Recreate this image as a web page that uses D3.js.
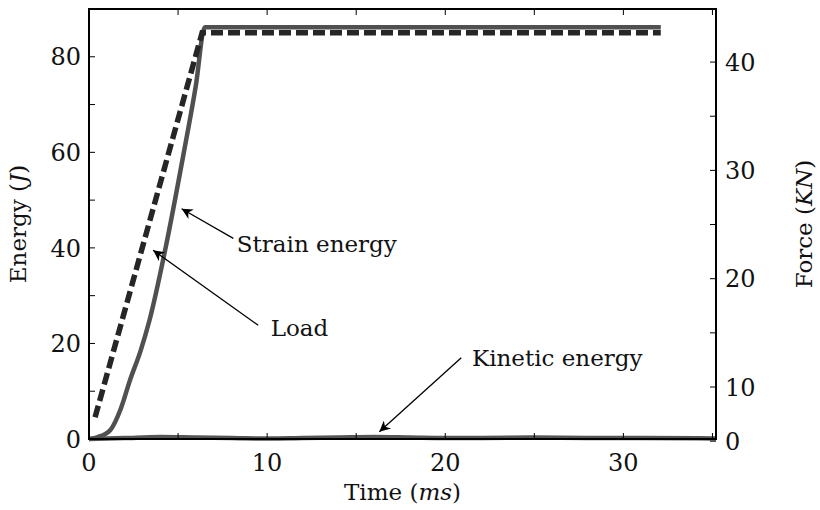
<!DOCTYPE html>
<html>
<head>
<meta charset="utf-8">
<script src="https://cdn.jsdelivr.net/npm/d3@7"></script>
<style>
  body { margin: 0; background: #fff; }
  text { font-family: "DejaVu Serif", serif; fill: #111; }
</style>
</head>
<body>
<div id="chart"></div>
<script>
// strain energy (J) vs time (ms)
var strainTime   = [0, 0.5, 1.2, 1.8, 2.3, 2.9, 3.4, 4.3, 5.3, 6.0, 6.5, 32.1];
var strainEnergy = [0, 0.4, 1.9, 6.5, 12.3, 18.5, 24.9, 40.0, 59.5, 74.0, 86.2, 86.2];

// load (KN) vs time (ms), right axis
var loadTime  = [0.34, 6.35, 32.1];
var loadForce = [7.2, 42.7, 42.7];

// kinetic energy (J) vs time (ms)
var kineticTime   = [0, 2, 4, 6, 8, 10, 12, 14, 16, 18, 20, 22, 25, 28, 31, 35.2];
var kineticEnergy = [0, 0.2, 0.4, 0.3, 0.2, 0.1, 0.2, 0.3, 0.4, 0.3, 0.2, 0.2, 0.3, 0.2, 0.2, 0.1];

// ticks
var xTicks = [0, 5, 10, 15, 20, 25, 30, 35];
var xLabels = [0, 10, 20, 30];
var energyTicks = [0, 10, 20, 30, 40, 50, 60, 70, 80];
var energyLabels = [0, 20, 40, 60, 80];
var forceTicks = [5, 10, 15, 20, 25, 30, 35, 40];
var forceLabels = [5, 10, 20, 30, 40];

// annotations: text, text position, arrow start, arrow tip (data coords: time, energy)
var notes = [
  {text: "Strain energy", tx: 8.3, ty: 39.2, from: [8.1, 42.0], to: [5.2, 48.2]},
  {text: "Load", tx: 10.2, ty: 21.5, from: [9.5, 23.8], to: [3.6, 39.5]},
  {text: "Kinetic energy", tx: 21.5, ty: 15.3, from: [20.9, 17.0], to: [16.3, 1.5]}
];

var margin = {top: 9, right: 104, bottom: 71, left: 89},
    width = 820 - margin.left - margin.right,
    height = 510 - margin.top - margin.bottom;

var x = d3.scaleLinear().domain([0, 35.2]).range([0, width]);
var yE = d3.scaleLinear().domain([0, 90]).range([height, 0]);
var yF = d3.scaleLinear().domain([5.2, 44.9]).range([height, 0]);

var svg = d3.select("#chart")
  .append("svg")
  .attr("width", 820)
  .attr("height", 510)
  .append("g")
  .attr("transform", "translate(" + margin.left + "," + margin.top + ")");

svg.append("defs").append("marker")
  .attr("id", "arrow")
  .attr("viewBox", "0 0 10 10")
  .attr("refX", 10).attr("refY", 5)
  .attr("markerWidth", 18).attr("markerHeight", 11)
  .attr("markerUnits", "userSpaceOnUse")
  .attr("orient", "auto")
  .append("path")
  .attr("d", "M0,0 L10,5 L0,10 L3,5 Z")
  .attr("fill", "#000");

// lines
var strainData = strainTime.map(function(t, i) { return [t, strainEnergy[i]]; });
var loadData = loadTime.map(function(t, i) { return [t, loadForce[i]]; });
var kineticData = kineticTime.map(function(t, i) { return [t, kineticEnergy[i]]; });

var lineE = d3.line()
  .x(function(d) { return x(d[0]); })
  .y(function(d) { return yE(d[1]); })
  .curve(d3.curveMonotoneX);
var lineF = d3.line()
  .x(function(d) { return x(d[0]); })
  .y(function(d) { return yF(d[1]); });

svg.append("path")
  .datum(kineticData)
  .attr("d", lineE)
  .attr("fill", "none")
  .attr("stroke", "#555")
  .attr("stroke-width", 4.5);

svg.append("path")
  .datum(strainData)
  .attr("d", lineE)
  .attr("fill", "none")
  .attr("stroke", "#505050")
  .attr("stroke-width", 4.5);

svg.append("path")
  .datum(loadData)
  .attr("d", lineF)
  .attr("fill", "none")
  .attr("stroke", "#262626")
  .attr("stroke-width", 5.5)
  .attr("stroke-dasharray", "12,5");

// frame
svg.append("rect")
  .attr("width", width)
  .attr("height", height)
  .attr("fill", "none")
  .attr("stroke", "#000")
  .attr("stroke-width", 2);

// ticks (inward) on all sides
var tickLen = 6;
svg.selectAll(".xtick-b").data(xTicks).enter().append("line")
  .attr("x1", function(d) { return x(d); }).attr("x2", function(d) { return x(d); })
  .attr("y1", height).attr("y2", height - tickLen)
  .attr("stroke", "#000").attr("stroke-width", 1);
svg.selectAll(".xtick-t").data(xTicks).enter().append("line")
  .attr("x1", function(d) { return x(d); }).attr("x2", function(d) { return x(d); })
  .attr("y1", 0).attr("y2", tickLen)
  .attr("stroke", "#000").attr("stroke-width", 1);
svg.selectAll(".etick").data(energyTicks).enter().append("line")
  .attr("x1", 0).attr("x2", tickLen)
  .attr("y1", function(d) { return yE(d); }).attr("y2", function(d) { return yE(d); })
  .attr("stroke", "#000").attr("stroke-width", 1);
svg.selectAll(".ftick").data(forceTicks).enter().append("line")
  .attr("x1", width).attr("x2", width - tickLen)
  .attr("y1", function(d) { return yF(d); }).attr("y2", function(d) { return yF(d); })
  .attr("stroke", "#000").attr("stroke-width", 1);

// tick labels
svg.selectAll(".xlab").data(xLabels).enter().append("text")
  .attr("x", function(d) { return x(d); })
  .attr("y", height + 32)
  .attr("text-anchor", "middle")
  .style("font-size", "24px")
  .text(function(d) { return d; });
svg.selectAll(".elab").data(energyLabels).enter().append("text")
  .attr("x", -8)
  .attr("y", function(d) { return yE(d); })
  .attr("dy", "0.36em")
  .attr("text-anchor", "end")
  .style("font-size", "24px")
  .text(function(d) { return d; });
svg.selectAll(".flab").data(forceLabels).enter().append("text")
  .attr("x", width + 9)
  .attr("y", function(d) { return yF(d); })
  .attr("dy", "0.36em")
  .style("font-size", "24px")
  .text(function(d) { return d === 5 ? "0" : d; }); // bottom of force axis is labelled 0

// axis titles
var tE = svg.append("text")
  .attr("transform", "translate(" + (-63) + "," + (height / 2) + ") rotate(-90)")
  .attr("text-anchor", "middle")
  .style("font-size", "23px");
tE.append("tspan").text("Energy (");
tE.append("tspan").style("font-style", "italic").text("J");
tE.append("tspan").text(")");

var tF = svg.append("text")
  .attr("transform", "translate(" + (width + 96) + "," + (height / 2) + ") rotate(-90)")
  .attr("text-anchor", "middle")
  .style("font-size", "23px");
tF.append("tspan").text("Force (");
tF.append("tspan").style("font-style", "italic").text("KN");
tF.append("tspan").text(")");

var tT = svg.append("text")
  .attr("x", width / 2)
  .attr("y", height + 61)
  .attr("text-anchor", "middle")
  .style("font-size", "23px");
tT.append("tspan").text("Time (");
tT.append("tspan").style("font-style", "italic").text("ms");
tT.append("tspan").text(")");

// annotations
svg.selectAll(".note-arrow").data(notes).enter().append("line")
  .attr("x1", function(d) { return x(d.from[0]); })
  .attr("y1", function(d) { return yE(d.from[1]); })
  .attr("x2", function(d) { return x(d.to[0]); })
  .attr("y2", function(d) { return yE(d.to[1]); })
  .attr("stroke", "#000")
  .attr("stroke-width", 1.3)
  .attr("marker-end", "url(#arrow)");
svg.selectAll(".note-text").data(notes).enter().append("text")
  .attr("x", function(d) { return x(d.tx); })
  .attr("y", function(d) { return yE(d.ty); })
  .style("font-size", "23px")
  .text(function(d) { return d.text; });
</script>
</body>
</html>
